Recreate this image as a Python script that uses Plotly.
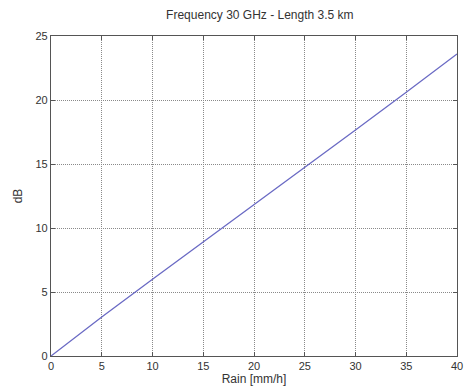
import plotly.graph_objects as go

rain = [0, 5, 10, 15, 20, 25, 30, 35, 40]
attenuation_db = [0, 3.05, 6.0, 8.9, 11.8, 14.75, 17.65, 20.6, 23.6]
x_ticks = [0, 5, 10, 15, 20, 25, 30, 35, 40]
y_ticks = [0, 5, 10, 15, 20, 25]

fig = go.Figure()
fig.add_trace(go.Scatter(x=rain, y=attenuation_db, mode="lines",
                         line=dict(color="#6a6ac4", width=1.3), showlegend=False))

axis_common = dict(showline=True, linecolor="#555555", linewidth=1.2, mirror="ticks",
                   ticks="inside", ticklen=4, tickcolor="#555555",
                   showgrid=True, gridcolor="#8a8a8a", griddash="1px,1px", gridwidth=1,
                   zeroline=False, tickfont=dict(size=11, color="#333333"),
                   automargin=False)

fig.update_xaxes(range=[0, 40], tickvals=x_ticks,
                 title=dict(text="Rain [mm/h]", standoff=0, font=dict(size=12, color="#333333")),
                 **axis_common)
fig.update_yaxes(range=[0, 25], tickvals=y_ticks,
                 title=dict(text="dB", standoff=10, font=dict(size=12, color="#333333")),
                 **axis_common)

fig.update_layout(
    width=464, height=391,
    margin=dict(l=51, r=7, t=36, b=35, autoexpand=False),
    paper_bgcolor="white", plot_bgcolor="white",
    font=dict(family="Liberation Sans, Arial, sans-serif", color="#333333"),
    title=dict(text="Frequency 30 GHz - Length 3.5 km", x=0.56, xanchor="center",
               y=0.962, yanchor="middle", font=dict(size=12, color="#333333")),
)

fig.write_html("out.html", config={"displayModeBar": False},
               post_script="document.body.style.margin='0';document.body.style.overflow='hidden';")
